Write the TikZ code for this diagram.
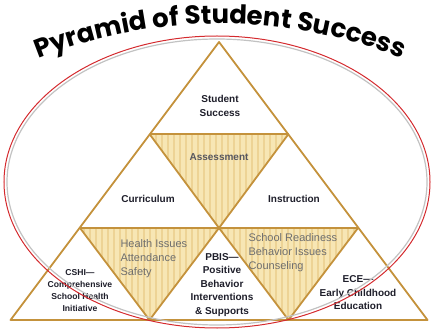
\documentclass[tikz,border=0pt]{standalone}
\usepackage{fontspec}
\setmainfont{Liberation Sans}
\newfontfamily\titlefont{Poppins}
\usetikzlibrary{decorations.text, patterns.meta}
\definecolor{mgold}{HTML}{C4923C}
\definecolor{mcream}{HTML}{F7E6B4}
\definecolor{mstripe}{HTML}{EDD395}
\definecolor{mred}{HTML}{D42A2E}
\definecolor{mshade}{HTML}{C2C2C2}
\definecolor{mink}{HTML}{1E1E2A}
\definecolor{mgrey}{HTML}{6E6E6E}
\tikzstyle{edge} = [draw = mgold, line width = 1.8pt, line join = round]
\tikzstyle{band} = [pattern = {Lines[angle=90, distance=6pt, line width=2.6pt]}, pattern color = mstripe]
\tikzstyle{tier} = [text = mink, font = \bfseries\fontsize{10}{13.5}\selectfont, align = center]
\tikzstyle{issue} = [text = mgrey, font = \fontsize{11}{14}\selectfont, align = left]
\tikzstyle{small} = [text = mink, font = \bfseries\fontsize{8.6}{12}\selectfont, align = center]

\begin{document}
\begin{tikzpicture}[x=1pt, y=-1pt]
  \useasboundingbox (0,0) rectangle (444,331);
  % corners of the pyramid
  \coordinate (top) at (219,42);
  \coordinate (l1) at (149.5,134);
  \coordinate (r1) at (288.5,134);
  \coordinate (l2) at (80,228);
  \coordinate (m2) at (219,228);
  \coordinate (r2) at (358,228);
  \coordinate (l3) at (10.5,320);
  \coordinate (ma) at (149.5,320);
  \coordinate (mb) at (288.5,320);
  \coordinate (r3) at (427.5,320);
  % shaded triangles
  \fill [mcream] (l1) -- (r1) -- (m2) -- cycle;
  \fill [mcream] (l2) -- (m2) -- (ma) -- cycle;
  \fill [mcream] (m2) -- (r2) -- (mb) -- cycle;
  \path [band] (l1) -- (r1) -- (m2) -- cycle;
  \path [band] (l2) -- (m2) -- (ma) -- cycle;
  \path [band] (m2) -- (r2) -- (mb) -- cycle;
  % outline
  \draw [edge] (top) -- (l3) -- (r3) -- cycle;
  \draw [edge] (l1) -- (r1);
  \draw [edge] (l2) -- (r2);
  \draw [edge] (l1) -- (m2) -- (r1);
  \draw [edge] (l2) -- (ma) -- (m2) -- (mb) -- (r2);
  % labels
  \node (succ) [tier] at (220,106) {Student\\Success};
  \node (assess) [tier, text = mink!75] at (219,157) {Assessment};
  \node (curr) [tier] at (148,199) {Curriculum};
  \node (instr) [tier] at (294,199) {Instruction};
  \node (health) [issue, anchor = north west] at (117,236) {Health Issues\\Attendance\\Safety};
  \node (ready) [issue, anchor = north west] at (245,230) {School Readiness\\Behavior Issues\\Counseling};
  \node (pbis) [tier] at (222,285) {PBIS---\\Positive\\Behavior\\Interventions\\\& Supports};
  \node (cshi) [small] at (80,291) {CSHI---\\Comprehensive\\School Health\\Initiative};
  \node (ece) [tier] at (358,293) {ECE---\\Early Childhood\\Education};
  % ring
  \draw [mshade, line width = 1.2pt] (217,182) ellipse [x radius = 210pt, y radius = 143pt];
  \draw [mred, line width = 1pt] (217,182) ellipse [x radius = 213pt, y radius = 146pt];
  % title
  \coordinate (ta) at (16,68);
  \coordinate (tb) at (424,68);
  \path [decorate, decoration = {text along path, text align = center,
    text = {|\titlefont\bfseries\fontsize{26}{26}\selectfont|Pyramid of Student Success}}]
    (ta) .. controls (146,9) and (294,9) .. (tb);
\end{tikzpicture}
\end{document}
